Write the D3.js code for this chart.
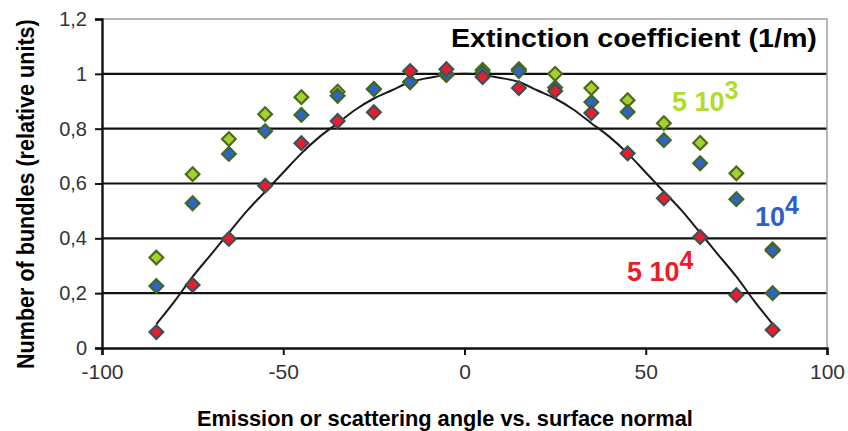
<!DOCTYPE html>
<html>
<head>
<meta charset="utf-8">
<script src="https://cdn.jsdelivr.net/npm/d3@7"></script>
<style>
  body { margin: 0; background: #fff; }
  svg { display: block; font-family: "Liberation Sans", Arial, sans-serif; }
</style>
</head>
<body>
<div id="chart"></div>
<script>
// angles (deg) of the measured points
var angles = [-85, -75, -65, -55, -45, -35, -25, -15, -5, 5, 15, 25, 35, 45, 55, 65, 75, 85];
// extinction 5 10^3
var green = [0.33, 0.634, 0.762, 0.853, 0.915, 0.935, 0.945, 0.97, 0.995, 1.014, 1.017, 1.0, 0.948, 0.904, 0.82, 0.748, 0.637, 0.36];
// extinction 10^4
var blue = [0.226, 0.528, 0.708, 0.791, 0.85, 0.92, 0.944, 0.97, 1.0, 1.005, 1.01, 0.95, 0.897, 0.861, 0.758, 0.674, 0.543, 0.355];
var blueExtra = [[85, 0.2]];
// extinction 5 10^4
var red = [0.058, 0.23, 0.398, 0.592, 0.747, 0.828, 0.86, 1.01, 1.017, 0.988, 0.948, 0.937, 0.857, 0.71, 0.546, 0.405, 0.193, 0.066];
// the black curve, read every 5 deg
var curveAngles = [-85, -80, -75, -70, -65, -60, -55, -50, -45, -40, -35, -30, -25, -20, -15, -10, -5, 0, 5, 10, 15, 20, 25, 30, 35, 40, 45, 50, 55, 60, 65, 70, 75, 80, 85];
var curveVals = [0.087, 0.17, 0.26, 0.34, 0.42, 0.5, 0.57, 0.64, 0.71, 0.77, 0.82, 0.87, 0.91, 0.94, 0.97, 0.985, 0.996, 1.0, 0.996, 0.985, 0.97, 0.94, 0.91, 0.87, 0.82, 0.77, 0.71, 0.64, 0.57, 0.5, 0.42, 0.34, 0.26, 0.17, 0.087];
var xTicks = [-100, -50, 0, 50, 100];
var yTicks = [0, 0.2, 0.4, 0.6, 0.8, 1, 1.2];

var W = 848, H = 431;
var svg = d3.select('#chart').append('svg').attr('width', W).attr('height', H);

var x = d3.scaleLinear().domain([-100, 100]).range([102, 827]);
var y = d3.scaleLinear().domain([0, 1.2]).range([348, 19]);
var fmt = function(d) { return String(d).replace('.', ','); };

// grid lines
svg.append('g').selectAll('line')
  .data(yTicks.filter(function(d) { return d > 0 && d < 1.2; }))
  .enter().append('line')
  .attr('x1', x(-100)).attr('x2', x(100))
  .attr('y1', function(d) { return y(d); }).attr('y2', function(d) { return y(d); })
  .attr('stroke', '#111').attr('stroke-width', 2.2);

// grey frame top / right
svg.append('path')
  .attr('d', 'M' + x(-100) + ',' + y(1.2) + 'H' + x(100) + 'V' + y(0))
  .attr('fill', 'none').attr('stroke', '#a0a0a0').attr('stroke-width', 1.5);

// axes
var xAxis = svg.append('g').attr('transform', 'translate(0,' + y(0) + ')')
  .call(d3.axisBottom(x).tickValues(xTicks).tickSize(7).tickPadding(9).tickFormat(fmt));
var yAxis = svg.append('g').attr('transform', 'translate(' + x(-100) + ',0)')
  .call(d3.axisLeft(y).tickValues(yTicks).tickSize(7).tickPadding(8).tickFormat(fmt));
[xAxis, yAxis].forEach(function(a) {
  a.select('.domain').attr('stroke', '#111').attr('stroke-width', 2.4);
  a.selectAll('.tick line').attr('stroke', '#111').attr('stroke-width', 2);
  a.selectAll('.tick text').attr('fill', '#333').style('font-family', '"Liberation Sans", Arial, sans-serif');
});
xAxis.selectAll('.tick text').style('font-size', '21px');
yAxis.selectAll('.tick text').style('font-size', '20px');

// curve
var line = d3.line()
  .x(function(d, i) { return x(curveAngles[i]); })
  .y(function(d) { return y(d); })
  .curve(d3.curveCatmullRom);
svg.append('path').datum(curveVals)
  .attr('d', line).attr('fill', 'none').attr('stroke', '#1a1a1a').attr('stroke-width', 2);

// diamonds
var diamond = d3.symbol().type(d3.symbolDiamond2).size(120);
function drawSeries(pts, fill, edge) {
  svg.append('g').selectAll('path').data(pts).enter().append('path')
    .attr('d', diamond)
    .attr('transform', function(d) { return 'translate(' + x(d[0]) + ',' + y(d[1]) + ')'; })
    .attr('fill', fill).attr('stroke', edge).attr('stroke-width', 2.2);
}
function pairs(vals) { return vals.map(function(v, i) { return [angles[i], v]; }); }
drawSeries(pairs(green), '#a8d02c', '#4c6a20');
drawSeries(pairs(blue).concat(blueExtra), '#2f63c8', '#3f6a22');
drawSeries(pairs(red), '#ee1c2a', '#3b5256');

// titles, squeezed to the width they take in the picture
function squeezed(str, size, tx, ty, rot, len) {
  var t = svg.append('text').attr('x', 0).attr('y', 0)
    .style('font-size', size + 'px').style('font-weight', 'bold').attr('fill', '#000')
    .text(str);
  var k = len / t.node().getComputedTextLength();
  t.attr('transform', 'translate(' + tx + ',' + ty + ') rotate(' + rot + ') scale(' + k + ',1)');
}
squeezed('Extinction coefficient (1/m)', 25, 451, 47, 0, 366);
squeezed('Emission or scattering angle vs. surface normal', 22, 197, 426, 0, 496);
squeezed('Number of bundles (relative units)', 23, 34, 369, -90, 350);

// series labels
function label(tx, ty, base, sup, color, weight) {
  var t = svg.append('text').attr('x', tx).attr('y', ty).attr('fill', color)
    .style('font-size', '27px').style('font-weight', weight);
  t.append('tspan').text(base);
  t.append('tspan').attr('dy', -12).style('font-size', '25px').text(sup);
}
label(672, 111, '5 10', '3', '#b0dc2a', 'bold');
label(755, 226, '10', '4', '#2f5fc6', 'bold');
label(627, 281, '5 10', '4', '#ee1c2a', 'bold');
</script>
</body>
</html>
